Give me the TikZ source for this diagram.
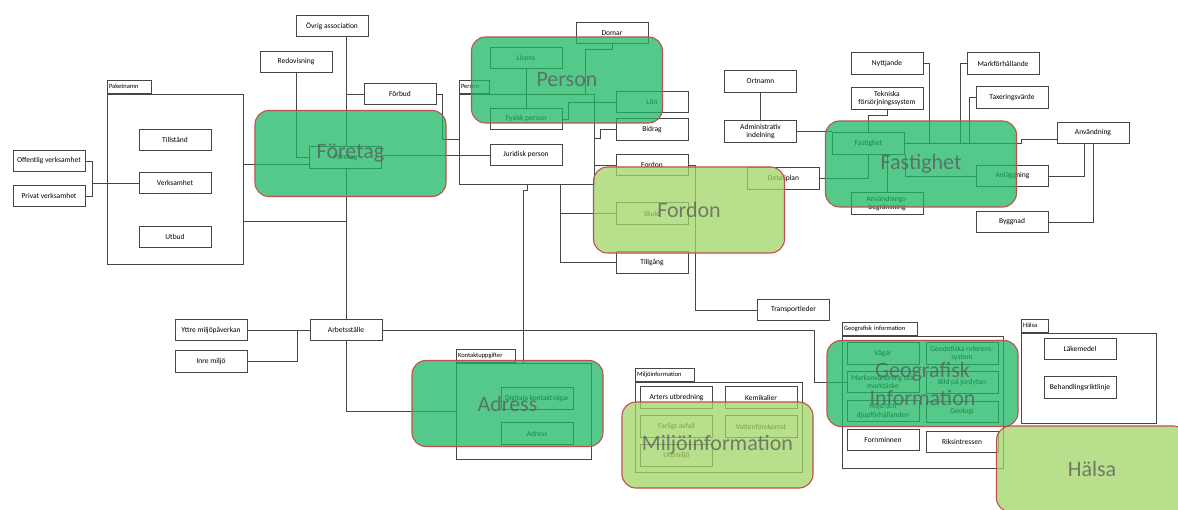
\documentclass[tikz,border=0pt]{standalone}
\usepackage{fontspec}
\setmainfont{Carlito}
\usepackage{tikz}
\usetikzlibrary{positioning,backgrounds}
\definecolor{linje}{RGB}{70,70,70}
\definecolor{gron}{RGB}{27,183,99}
\definecolor{ljusgron}{RGB}{160,213,102}
\definecolor{kant}{RGB}{190,80,77}
\definecolor{rubrik}{RGB}{89,89,89}
\newcommand{\textliten}{\fontsize{7.5}{8.5}\selectfont}
\newcommand{\textflik}{\fontsize{6.5}{7.5}\selectfont}
\newcommand{\textstor}{\fontsize{22}{28}\selectfont}

\begin{document}
\begin{tikzpicture}[x=1pt,y=-1pt,
  klass/.style={draw=linje,line width=0.8pt,fill=white,minimum width=72pt,minimum height=21.5pt,inner sep=1pt,font=\textliten,align=center},
  paket/.style={draw=linje,line width=0.8pt,inner sep=0pt},
  flik/.style={draw=linje,line width=0.8pt,anchor=south west,inner xsep=2pt,inner ysep=0pt,minimum height=13pt,font=\textflik,align=left},
  omrade/.style={draw=kant,line width=1.1pt,fill=gron,fill opacity=0.75,rounded corners=14pt,minimum width=191pt,minimum height=86pt,font=\textstor,text=rubrik,align=center},
  ljus/.style={omrade,fill=ljusgron},
  forb/.style={draw=linje,line width=0.8pt}]
\useasboundingbox (0,0) rectangle (1178,510);
\clip (0,0) rectangle (1178,510);
% paket
\node[paket,minimum width=136pt,minimum height=170pt] (paketnamn) at (175,179) {};
\node[flik,text width=40pt] (paketnamnflik) at (paketnamn.north west) {Paketnamn};
\node[paket,minimum width=135pt,minimum height=90pt] (personpkt) at (526.5,139) {};
\node[flik,text width=26pt] (personflik) at (personpkt.north west) {Person};
\node[paket,minimum width=135pt,minimum height=96pt] (kontaktpkt) at (523.5,411) {};
\node[flik,text width=55pt] (kontaktflik) at (kontaktpkt.north west) {Kontaktuppgifter};
\node[paket,minimum width=167pt,minimum height=90pt] (miljopkt) at (718.5,427) {};
\node[flik,text width=55pt] (miljoflik) at (miljopkt.north west) {Miljöinformation};
\node[paket,minimum width=161pt,minimum height=132pt] (geopkt) at (922.5,402) {};
\node[flik,text width=71pt] (geoflik) at (geopkt.north west) {Geografisk information};
\node[paket,minimum width=135pt,minimum height=90pt] (halsapkt) at (1088.5,378) {};
\node[flik,text width=23pt] (halsaflik) at (halsapkt.north west) {Hälsa};
% klasser
\node[klass] (offv) at (49,161) {Offentlig verksamhet};
\node[klass] (privv) at (49,196) {Privat verksamhet};
\node[klass] (tillst) at (175,140) {Tillstånd};
\node[klass] (verks) at (175,183) {Verksamhet};
\node[klass] (utbud) at (175,237) {Utbud};
\node[klass] (redov) at (296,62) {Redovisning};
\node[klass] (ovrig) at (332,26) {Övrig association};
\node[klass] (forbud) at (400,94) {Förbud};
\node[klass] (foretagin) at (345.5,157.5) {Företag};
\node[klass] (licens) at (526,58) {Licens};
\node[klass] (fysisk) at (526,119) {Fysisk person};
\node[klass] (jurid) at (526,155) {Juridisk person};
\node[klass] (domar) at (612,33) {Domar};
\node[klass] (lon) at (652,102) {Lön};
\node[klass] (bidrag) at (652,129.5) {Bidrag};
\node[klass] (fordsm) at (652,165) {Fordon};
\node[klass] (skuld) at (652,213.5) {Skuld};
\node[klass] (tillgang) at (652,262.5) {Tillgång};
\node[klass] (transp) at (793.5,310) {Transportleder};
\node[klass] (ortnamn) at (760.5,81.5) {Ortnamn};
\node[klass] (admin) at (760.5,131.5) {Administrativ\\indelning};
\node[klass] (detalj) at (783.5,178.5) {Detaljplan};
\node[klass] (nyttj) at (887,63.5) {Nyttjande};
\node[klass] (tekn) at (887,98.5) {Tekniska\\försörjningssystem};
\node[klass] (fastin) at (868.5,143.5) {Fastighet};
\node[klass] (anvbeg) at (887,203.5) {Användnings-\\begränsning};
\node[klass] (markf) at (1003,63.5) {Markförhållande};
\node[klass] (tax) at (1012,97.5) {Taxeringsvärde};
\node[klass] (anvand) at (1093,133) {Användning};
\node[klass] (anlagg) at (1012.5,176) {Anläggning};
\node[klass] (byggnad) at (1012,222) {Byggnad};
\node[klass] (yttre) at (211,330) {Yttre miljöpåverkan};
\node[klass] (inre) at (211,361.5) {Inre miljö};
\node[klass] (arbets) at (346,330) {Arbetsställe};
\node[klass] (digit) at (537,398.5) {Digitala kontaktvägar};
\node[klass] (adr) at (537,433.5) {Adress};
\node[klass] (arter) at (676.5,397.5) {Arters utbredning};
\node[klass] (kemik) at (761,397.5) {Kemikalier};
\node[klass] (farligt) at (676.5,426.5) {Farligt avfall};
\node[klass] (vatten) at (761,426.5) {Vattenförekomst};
\node[klass] (utemiljo) at (676.5,455.5) {Utemiljö};
\node[klass] (vagar) at (883,353.5) {Vägar};
\node[klass] (geodet) at (962,353.5) {Geodetiska referens-\\system};
\node[klass] (markanv) at (883,382) {Markanvändning och\\marktäcke};
\node[klass] (bild) at (962,382.5) {Bild på jordytan};
\node[klass] (hojd) at (883,411) {Höjd och\\djupförhållanden};
\node[klass] (geologi) at (962,412) {Geologi};
\node[klass] (fornm) at (883,440) {Fornminnen};
\node[klass] (riks) at (962,442) {Riksintressen};
\node[klass] (lakem) at (1080,349) {Läkemedel};
\node[klass] (behand) at (1080,387.5) {Behandlingsriktlinje};
% förbindelser
\begin{scope}[on background layer]
\draw[forb] (offv.east) -- ++(7,0) |- (verks.west);
\draw[forb] (privv.east) -- ++(7,0) |- (verks.west);
\draw[forb] (paketnamn.east |- 0,164) -- (foretagin.west |- 0,164);
\draw[forb] (paketnamn.east |- 0,221) -- (arbets.north |- 0,221);
\draw[forb] (ovrig.south -| arbets.north) -- (arbets.north);
\draw[forb] (forbud.west) -- (forbud.west -| arbets.north);
\draw[forb] (redov.south) |- (foretagin.west);
\draw[forb] (foretagin.east |- jurid.west) -- (jurid.west);
\draw[forb] (forbud.east) -- ++(6,0) |- (personpkt.west |- 0,139);
\draw[forb] (domar.south) -- ++(0,5) -| (personpkt.north -| 585,0);
\draw[forb] (licens) -- (fysisk);
\draw[forb] (fysisk.east) -- ++(6,0) |- (lon.west);
\draw[forb] (personpkt.east |- 0,138) -- ++(6,0) |- (bidrag.west);
\draw[forb] (personpkt.east |- fordsm.west) -- (fordsm.west);
\draw[forb] (fordsm.east) -- ++(7,0) |- (transp.west);
\draw[forb] (personpkt.south -| 560,0) |- (skuld.west);
\draw[forb] (personpkt.south -| 560,0) |- (tillgang.west);
\draw[forb] (personpkt.south -| 527,0) -- ++(0,6) -- ++(-4,0) -- (kontaktpkt.north -| 523,0);
\draw[forb] (arbets.east) -- (arbets.east -| 814,0) |- (markanv.west);
\draw[forb] (yttre) -- (arbets);
\draw[forb] (inre.east) -- ++(50,0) |- (arbets.west);
\draw[forb] (arbets.south) |- (kontaktpkt.west);
\draw[forb] (ortnamn) -- (admin);
\draw[forb] (admin.east) -- (admin.east -| fastin.west);
\draw[forb] (detalj.east) -| (fastin.south);
\draw[forb] (fastin.south -| anvbeg.north) -- (anvbeg.north);
\draw[forb] (tekn.south) -- ++(0,6) -| (fastin.north);
\draw[forb] (fastin.east) -- ++(116,0) |- (anvand.west |- 0,139);
\draw[forb] (nyttj.east) -- ++(6,0) |- (fastin.east);
\draw[forb] (markf.west) -- ++(-6,0) |- (fastin.east);
\draw[forb] (tax.west) -- ++(-6,0) |- (fastin.east);
\draw[forb] (fastin.south east) |- (anlagg.west);
\draw[forb] ([xshift=-9pt]anvand.south) |- (anlagg.east);
\draw[forb] (anvand.south) |- (byggnad.east);
\end{scope}
% områden
\node[omrade] (foretag) at (350.5,153.5) {Företag};
\node[omrade] (person) at (567,80) {Person};
\node[ljus] (fordon) at (689,210) {Fordon};
\node[omrade] (fastighet) at (921,164) {Fastighet};
\node[omrade] (adress) at (507.5,403.5) {Adress};
\node[ljus] (miljo) at (717.5,445) {Miljöinformation};
\node[omrade] (geo) at (922.5,383.5) {Geografisk\\Information};
\node[ljus] (halsa) at (1092,469) {Hälsa};
\end{tikzpicture}
\end{document}
